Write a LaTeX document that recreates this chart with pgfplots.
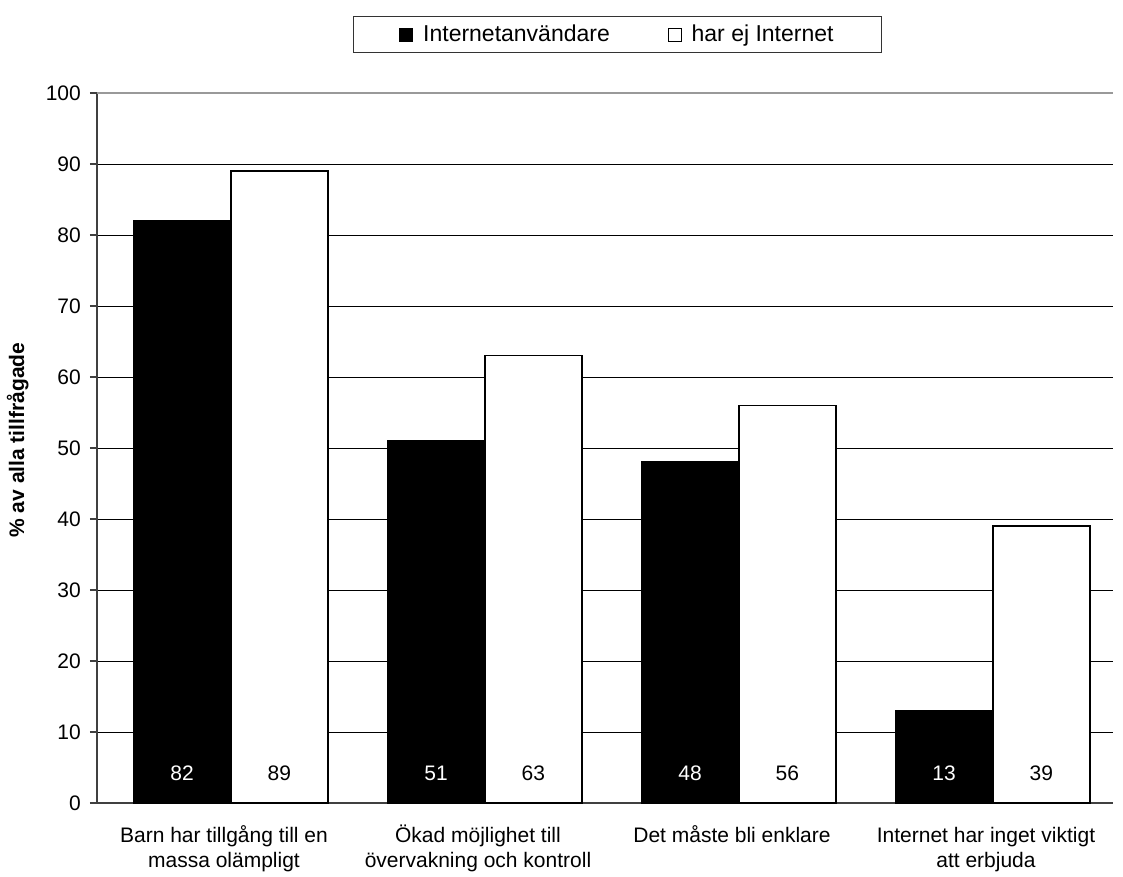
\documentclass[border=0pt]{standalone}
\usepackage{pgfplots}
\pgfplotsset{compat=1.18}
\usepackage{fontspec}
\setmainfont{Liberation Sans}
\begin{document}
\fontsize{21bp}{26bp}\selectfont
\begin{tikzpicture}
\useasboundingbox (-97bp,-74bp) rectangle (1026bp,803bp);
\begin{axis}[
  at={(0,0)}, anchor=south west,
  scale only axis, width=1016bp, height=710bp,
  xmin=-0.5, xmax=3.5, ymin=0, ymax=100,
  enlargelimits=false,
  axis x line=bottom, axis y line=left,
  axis line style={-, draw=black!75, line width=1.2bp},
  ybar, bar width=97bp,
  /pgf/number format/assume math mode=true,
  ytick={0,10,...,90},
  extra y ticks={100},
  extra y tick style={grid style={draw=black!40, line width=2bp}},
  ymajorgrids, grid style={draw=black, line width=0.9bp},
  xtick={0,1,2,3},
  xticklabels={{\strut Barn har tillgång till en\\\strut massa olämpligt},{\strut Ökad möjlighet till\\\strut övervakning och kontroll},{\strut Det måste bli enklare\\\strut},{\strut Internet har inget viktigt\\\strut att erbjuda}},
  xticklabel style={align=center, anchor=north, yshift=-8bp, font=\fontsize{21bp}{25bp}\selectfont},
  x tick style={draw=none},
  extra x ticks={-0.5,0.5,1.5,2.5,3.5},
  extra x tick labels={},
  extra x tick style={grid=none, tick style={draw=black!75, line width=1.2bp}, major tick length=8bp, tick align=outside},
  y tick style={draw=black!75, line width=1.2bp},
  major tick length=7bp, tick align=outside,
  yticklabel style={font=\fontsize{21bp}{25bp}\selectfont, xshift=-2bp},
  ylabel={\textbf{\% av alla tillfrågade}},
  ylabel style={font=\fontsize{21bp}{25bp}\selectfont, at={(ticklabel cs:0.511)}},
  ylabel shift=-4bp,
  legend columns=2,
  legend style={at={(0.5123,1.0824)}, anchor=center, draw=black!80, line width=0.8bp,
    font=\fontsize{23bp}{27bp}\selectfont, inner xsep=46bp, inner ysep=6bp,
    /tikz/every odd column/.append style={column sep=8bp},
    /tikz/every even column/.append style={column sep=56bp}},
  legend image code/.code={\draw[#1, line width=0.8bp] (0bp,-6.5bp) rectangle (13bp,6.5bp);},
]
\addplot[bar shift=0pt, fill=black, draw=black, line width=1.5bp]
  coordinates {(-0.165,82) (0.835,51) (1.835,48) (2.835,13)};
\addplot[bar shift=0pt, fill=white, draw=black, line width=1.5bp]
  coordinates {(0.218,89) (1.218,63) (2.218,56) (3.218,39)};
\legend{Internetanvändare, har ej Internet}
\addplot[forget plot, bar shift=0pt, draw=none, fill=none, nodes near coords, point meta=explicit symbolic,
  every node near coord/.style={anchor=center, text=white, font=\fontsize{21bp}{25bp}\selectfont}]
  coordinates {(-0.165,4.2) [82] (0.835,4.2) [51] (1.835,4.2) [48] (2.835,4.2) [13]};
\addplot[forget plot, bar shift=0pt, draw=none, fill=none, nodes near coords, point meta=explicit symbolic,
  every node near coord/.style={anchor=center, text=black, font=\fontsize{21bp}{25bp}\selectfont}]
  coordinates {(0.218,4.2) [89] (1.218,4.2) [63] (2.218,4.2) [56] (3.218,4.2) [39]};
\end{axis}
\end{tikzpicture}
\end{document}
